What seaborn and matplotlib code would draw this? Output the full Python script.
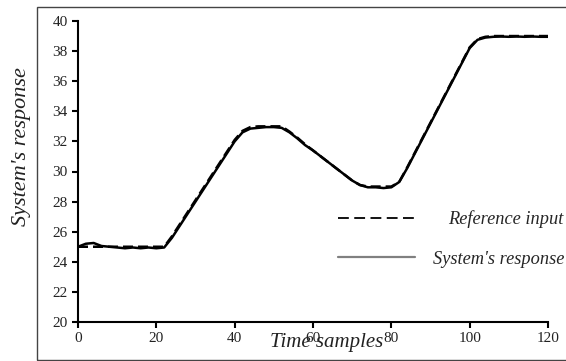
import matplotlib
matplotlib.use("Agg")
import matplotlib.pyplot as plt
from matplotlib.lines import Line2D
from matplotlib.patches import Rectangle
import seaborn as sns
import pandas as pd

# time axis, every 2 samples
t = list(range(0, 121, 2))

# reference input
ref_y = [25.0, 25.0, 25.0, 25.0, 25.0, 25.0, 25.0, 25.0, 25.0, 25.0,
         25.0, 25.0, 25.7, 26.5, 27.3, 28.1, 28.9, 29.7, 30.5, 31.3,
         32.1, 32.7, 32.95, 33.0, 33.0, 33.0, 33.0, 32.65, 32.25, 31.8,
         31.4, 31.0, 30.6, 30.2, 29.8, 29.4, 29.1, 29.0, 29.0, 29.0,
         29.0, 29.3, 30.25, 31.25, 32.25, 33.25, 34.25, 35.25, 36.25, 37.25,
         38.25, 38.8, 38.95, 39.0, 39.0, 39.0, 39.0, 39.0, 39.0, 39.0,
         39.0]

# system's response
resp_y = [25.0, 25.2, 25.25, 25.05, 25.0, 24.95, 24.9, 24.95, 24.9, 24.95,
          24.9, 24.95, 25.6, 26.4, 27.2, 28.0, 28.8, 29.6, 30.4, 31.2,
          32.0, 32.6, 32.85, 32.9, 32.95, 32.95, 32.9, 32.6, 32.2, 31.75,
          31.4, 31.0, 30.6, 30.2, 29.8, 29.4, 29.1, 28.95, 28.95, 28.9,
          28.95, 29.3, 30.2, 31.2, 32.2, 33.2, 34.2, 35.2, 36.2, 37.2,
          38.2, 38.75, 38.9, 38.95, 38.97, 38.95, 38.97, 38.95, 38.97, 38.95,
          38.95]

xticks = [0, 20, 40, 60, 80, 100, 120]
yticks = [20, 22, 24, 26, 28, 30, 32, 34, 36, 38, 40]

df = pd.DataFrame({"t": t, "ref": ref_y, "resp": resp_y})

sns.set_style("ticks")
plt.rcParams["font.family"] = ["Liberation Serif", "DejaVu Serif"]

fig = plt.figure(figsize=(5.66, 3.61), dpi=100)
ax = fig.add_axes([78 / 566, 39 / 361, 470 / 566, 301 / 361])

# outer frame of the picture
fig.patches.append(Rectangle((37 / 566, 1 / 361), 0.99, 353 / 361,
                             transform=fig.transFigure, fill=False,
                             edgecolor="#444444", linewidth=1.0))

sns.lineplot(data=df, x="t", y="resp", ax=ax, color="black", linewidth=1.8)
sns.lineplot(data=df, x="t", y="ref", ax=ax, color="black", linewidth=1.8,
             linestyle=(0, (4, 2)))

ax.set_xlim(0, 120)
ax.set_ylim(20, 40)
ax.set_xticks(xticks)
ax.set_yticks(yticks)
ax.tick_params(direction="out", length=4, width=1.5, labelsize=11,
               labelcolor="#222222", color="black")
for s in ["top", "right"]:
    ax.spines[s].set_visible(False)
for s in ["left", "bottom"]:
    ax.spines[s].set_linewidth(1.5)
    ax.spines[s].set_color("black")
ax.set_xlabel("")
ax.set_ylabel("")

fig.text(327 / 566, 1 - 343 / 361, "Time samples", style="italic",
         fontsize=15, ha="center", va="center", color="#222222")
fig.text(22 / 566, 1 - 147 / 361, "System's response", style="italic",
         fontsize=16, rotation=90, ha="center", va="center", color="#222222")

# legend: two single-entry legends so the labels line up on the right
fs = 13.2
px = fs * 100 / 72
h_ref = Line2D([], [], color="black", linewidth=1.3, linestyle=(0, (6, 3)))
h_resp = Line2D([], [], color="#808080", linewidth=1.6)
leg1 = ax.legend([h_ref], ["Reference input"], loc="center left",
                 bbox_to_anchor=((338 - 78) / 470, (322 - 219) / 301),
                 frameon=False, borderpad=0, borderaxespad=0,
                 handlelength=77 / px, handletextpad=33 / px,
                 prop={"style": "italic", "size": fs})
ax.add_artist(leg1)
ax.legend([h_resp], ["System's response"], loc="center left",
          bbox_to_anchor=((338 - 78) / 470, (322 - 259) / 301),
          frameon=False, borderpad=0, borderaxespad=0,
          handlelength=77 / px, handletextpad=18 / px,
          prop={"style": "italic", "size": fs})

fig.savefig("out.png", dpi=100)
